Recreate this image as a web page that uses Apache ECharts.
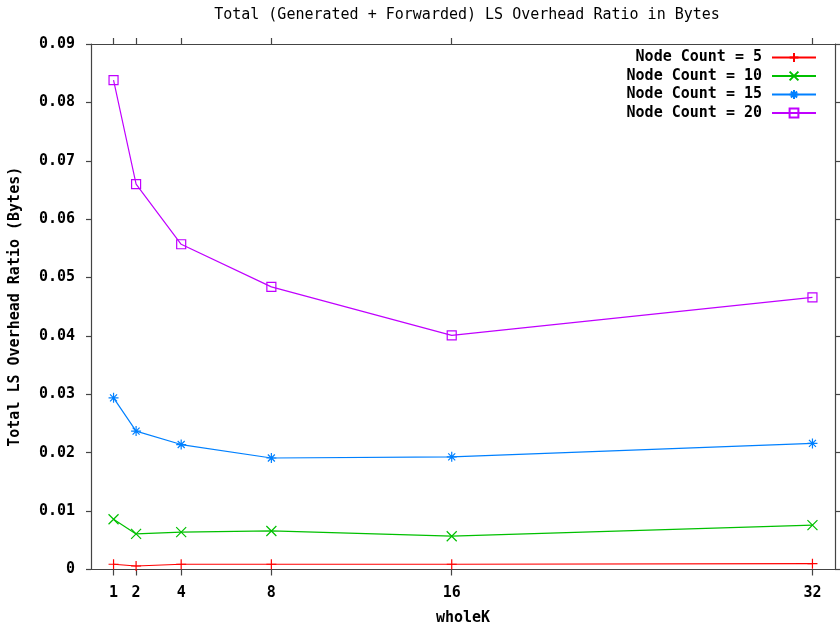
<!DOCTYPE html>
<html>
<head>
<meta charset="utf-8">
<script src="https://cdn.jsdelivr.net/npm/echarts@6/dist/echarts.min.js"></script>
<style>html,body{margin:0;padding:0;background:#fff;}#chart{width:840px;height:631px;}</style>
</head>
<body>
<div id="chart"></div>
<script>
const xValues = [1, 2, 4, 8, 16, 32];
const xTicks = [1, 2, 4, 8, 16, 32];
const seriesNames = ['Node Count = 5', 'Node Count = 10', 'Node Count = 15', 'Node Count = 20'];
const node5 = [0.0009, 0.0006, 0.0009, 0.0009, 0.0009, 0.0010];
const node10 = [0.0086, 0.0061, 0.0064, 0.0066, 0.0057, 0.0076];
const node15 = [0.0294, 0.0237, 0.0214, 0.0191, 0.0193, 0.0216];
const node20 = [0.0838, 0.0660, 0.0557, 0.0484, 0.0401, 0.0466];
const colors = ['#ff0000', '#00c000', '#0080ff', '#c000ff'];
const symbols = [
  'path://M0,5L10,5M5,0L5,10',
  'path://M0,0L10,10M0,10L10,0',
  'path://M0,5L10,5M5,0L5,10M1.5,1.5L8.5,8.5M1.5,8.5L8.5,1.5',
  'path://M0,0L10,0L10,10L0,10Z'
];
const symbolSizes = [10, 10, 10, 9];
const allData = [node5, node10, node15, node20];

const FONT = 'DejaVu Sans Mono';
const FS = 15;
const chart = echarts.init(document.getElementById('chart'), null, {renderer: 'canvas'});

const series = allData.map((vals, i) => ({
  name: seriesNames[i],
  type: 'line',
  data: vals.map((v, j) => [xValues[j], v]),
  symbol: symbols[i],
  symbolSize: symbolSizes[i],
  showSymbol: true,
  itemStyle: {color: 'rgba(0,0,0,0)', borderColor: colors[i], borderWidth: 1.2},
  lineStyle: {color: colors[i], width: 1.2},
  emphasis: {disabled: true},
  animation: false,
  z: 2 + i
}));

const axisLineStyle = {color: '#444', width: 1.2};

chart.setOption({
  animation: false,
  backgroundColor: '#ffffff',
  title: {
    text: 'Total (Generated + Forwarded) LS Overhead Ratio in Bytes',
    left: 462, top: 3, textAlign: 'center',
    textStyle: {fontFamily: FONT, fontSize: FS, fontWeight: 'normal', color: '#000'}
  },
  legend: {
    orient: 'vertical',
    right: 23, top: 50, padding: 0,
    align: 'right',
    itemWidth: 44, itemHeight: 11,
    itemGap: 3.5,
    selectedMode: false,
    data: seriesNames,
    textStyle: {fontFamily: FONT, fontSize: FS, fontWeight: 'bold', color: '#000', lineHeight: 14, padding: [0, 5, 0, 0]}
  },
  grid: {left: 91, right: 5, top: 44, bottom: 61.5, containLabel: false, outerBoundsMode: 'none'},
  xAxis: [{
    type: 'value', min: 0, max: 33, position: 'bottom',
    name: 'wholeK', nameLocation: 'middle', nameGap: 41,
    nameTextStyle: {fontFamily: FONT, fontSize: FS, fontWeight: 'bold', color: '#000'},
    axisLine: {show: true, onZero: false, lineStyle: axisLineStyle},
    axisTick: {show: true, inside: false, length: 6, customValues: xTicks, lineStyle: axisLineStyle},
    axisLabel: {show: true, margin: 16, customValues: xTicks, fontFamily: FONT, fontSize: FS, fontWeight: 'bold', color: '#000'},
    splitLine: {show: false}
  }, {
    type: 'value', min: 0, max: 33, position: 'top',
    axisLine: {show: true, onZero: false, lineStyle: axisLineStyle},
    axisTick: {show: true, inside: false, length: 6, customValues: xTicks, lineStyle: axisLineStyle},
    axisLabel: {show: false},
    splitLine: {show: false}
  }],
  yAxis: [{
    type: 'value', min: 0, max: 0.09, interval: 0.01, position: 'left',
    name: 'Total LS Overhead Ratio (Bytes)', nameLocation: 'middle', nameGap: 68, nameRotate: 90,
    nameTextStyle: {fontFamily: FONT, fontSize: FS, fontWeight: 'bold', color: '#000'},
    axisLine: {show: true, onZero: false, lineStyle: axisLineStyle},
    axisTick: {show: true, inside: false, length: 5, lineStyle: axisLineStyle},
    axisLabel: {show: true, margin: 16, fontFamily: FONT, fontSize: FS, fontWeight: 'bold', color: '#000',
      formatter: v => (v === 0 ? '0' : v.toFixed(2))},
    splitLine: {show: false}
  }, {
    type: 'value', min: 0, max: 0.09, interval: 0.01, position: 'right',
    axisLine: {show: true, onZero: false, lineStyle: axisLineStyle},
    axisTick: {show: true, inside: false, length: 5, lineStyle: axisLineStyle},
    axisLabel: {show: false},
    splitLine: {show: false}
  }],
  series: series
});
</script>
</body>
</html>
